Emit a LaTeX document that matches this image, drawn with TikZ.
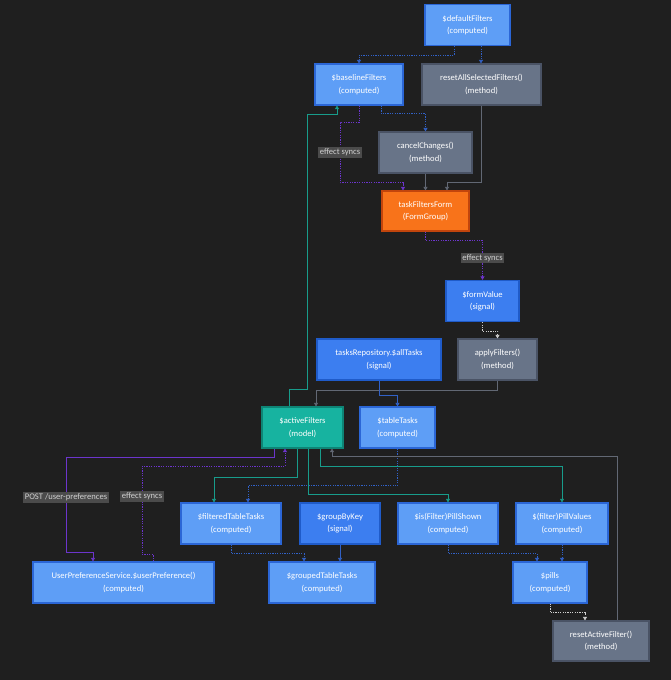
\documentclass[tikz,border=0pt]{standalone}
\usepackage{fontspec}
\setmainfont{Carlito}
\usetikzlibrary{arrows.meta}
\definecolor{bgc}{HTML}{1F1F1F}
\definecolor{compc}{HTML}{5E9EF6}
\definecolor{compb}{HTML}{2B66D6}
\definecolor{sigc}{HTML}{3C7EF0}
\definecolor{sigb}{HTML}{1F5BC9}
\definecolor{methc}{HTML}{687488}
\definecolor{methb}{HTML}{4A5365}
\definecolor{formc}{HTML}{F8731A}
\definecolor{formb}{HTML}{C2450C}
\definecolor{modc}{HTML}{17B3A0}
\definecolor{modb}{HTML}{0E8576}
\definecolor{bluel}{HTML}{3161C6}
\definecolor{purpl}{HTML}{6C35CC}
\definecolor{teall}{HTML}{189C8B}
\definecolor{grayl}{HTML}{626874}
\definecolor{whitel}{HTML}{CFCFCF}
\definecolor{lblc}{HTML}{4B4B4B}
\definecolor{lbltxt}{HTML}{CFCFCF}
\begin{document}
\begin{tikzpicture}[x=1pt, y=-1pt, minimum height=41pt, line width=0.7pt,
    font=\fontsize{8.6}{12.5}\selectfont, >={Triangle[length=3.5pt,width=4pt]},
    box/.style={draw, line width=1.2pt, text=white, align=center, inner sep=1pt},
    compbox/.style={box, fill=compc, draw=compb},
    sigbox/.style={box, fill=sigc, draw=sigb},
    methbox/.style={box, fill=methc, draw=methb},
    formbox/.style={box, fill=formc, draw=formb},
    modelbox/.style={box, fill=modc, draw=modb},
    dots/.style={dash pattern=on 1.2pt off 1.2pt},
    bdot/.style={->, bluel, dots}, bline/.style={->, bluel},
    pdot/.style={->, purpl, dots}, pline/.style={->, purpl},
    tline/.style={->, teall}, gline/.style={->, grayl},
    wdot/.style={->, whitel, dots},
    lbl/.style={fill=lblc, text=lbltxt, minimum height=0pt, inner sep=1.6pt, solid}]
  \fill[bgc] (0,0) rectangle (671,680);
  \useasboundingbox (0,0) rectangle (671,680);

  % nodes
  \node[compbox, minimum width=85pt] (dflt) at (467.5,25) {\$defaultFilters\\(computed)};
  \node[compbox, minimum width=88pt] (base) at (359,84.5) {\$baselineFilters\\(computed)};
  \node[methbox, minimum width=119pt] (rasf) at (481.5,84.5) {resetAllSelectedFilters()\\(method)};
  \node[methbox, minimum width=93pt] (cancel) at (425.5,152.5) {cancelChanges()\\(method)};
  \node[formbox, minimum width=87pt, minimum height=40pt] (form) at (425.5,211) {taskFiltersForm\\(FormGroup)};
  \node[sigbox, minimum width=73pt] (fval) at (482.5,301) {\$formValue\\(signal)};
  \node[sigbox, minimum width=124pt] (repo) at (379,359.5) {tasksRepository.\$allTasks\\(signal)};
  \node[methbox, minimum width=79pt] (apply) at (497.5,359.5) {applyFilters()\\(method)};
  \node[modelbox, minimum width=81pt] (active) at (302.5,427.5) {\$activeFilters\\(model)};
  \node[compbox, minimum width=75pt] (table) at (397.5,427.5) {\$tableTasks\\(computed)};
  \node[compbox, minimum width=100pt] (filt) at (231,523.5) {\$filteredTableTasks\\(computed)};
  \node[sigbox, minimum width=80pt] (grpkey) at (340,523.5) {\$groupByKey\\(signal)};
  \node[compbox, minimum width=100pt] (shown) at (448,523.5) {\$is(Filter)PillShown\\(computed)};
  \node[compbox, minimum width=92pt] (pvals) at (562,523.5) {\$(filter)PillValues\\(computed)};
  \node[compbox, minimum width=181pt] (upref) at (123.5,582.5) {UserPreferenceService.\$userPreference()\\(computed)};
  \node[compbox, minimum width=106pt] (grouped) at (322,582.5) {\$groupedTableTasks\\(computed)};
  \node[compbox, minimum width=74pt] (pills) at (550,582.5) {\$pills\\(computed)};
  \node[methbox, minimum width=96pt, minimum height=40pt] (reset) at (601,641) {resetActiveFilter()\\(method)};

  % connectors
  \draw[bdot] ([xshift=-13.5pt]dflt.south) -- ++(0,9) -| (base.north);
  \draw[bdot] ([xshift=13.5pt]dflt.south) -- ([xshift=13.5pt]dflt.south |- rasf.north);
  \draw[bdot] ([xshift=22pt]base.south) -- ++(0,8) -| (cancel.north);
  \draw[pdot] (base.south) -- ++(0,17) -- ++(-19,0) -- ++(0,60) node[lbl, midway] {effect syncs} -| ([xshift=-22.5pt]form.north);
  \draw[gline] (cancel.south) -- (form.north);
  \draw[gline] (rasf.south) -- ++(0,77) -| ([xshift=21.5pt]form.north);
  \draw[tline] ([xshift=-13.5pt]active.north) -- ++(0,-17) -- ++(18,0) -- ++(0,-275) -| ([xshift=-22pt]base.south);
  \draw[pdot] (form.south) -- ++(0,9) -| (fval.north) node[lbl, pos=0.72] {effect syncs};
  \draw[wdot] (fval.south) -- ++(0,9) -| (apply.north);
  \draw[gline] (apply.south) -- ++(0,10) -| ([xshift=13.5pt]active.north);
  \draw[bline] (repo.south) -- ++(0,15) -| (table.north);
  \draw[pline] ([xshift=-28.5pt]active.south) -- ++(0,9) -- ++(-208,0) -- ++(0,95) node[lbl, pos=0.42] {POST /user-preferences} -| ([xshift=-30.5pt]upref.north);
  \draw[pdot] ([xshift=29.5pt]upref.north) -- ++(0,-7) -- ++(-11,0) -- ++(0,-88) node[lbl, pos=0.66] {effect syncs} -| ([xshift=-17.5pt]active.south);
  \draw[tline] ([xshift=-5.5pt]active.south) -- ++(0,29) -| ([xshift=-17pt]filt.north);
  \draw[bdot] (table.south) -- ++(0,37) -| ([xshift=17pt]filt.north);
  \draw[tline] ([xshift=5.5pt]active.south) -- ++(0,46) -| (shown.north);
  \draw[tline] ([xshift=17.5pt]active.south) -- ++(0,18) -| (pvals.north);
  \draw[gline] ([xshift=16pt]reset.north) -- ++(0,-164) -| ([xshift=29.5pt]active.south);
  \draw[bdot] (filt.south) -- ++(0,9) -| ([xshift=-18pt]grouped.north);
  \draw[bline] (grpkey.south) -- (grpkey.south |- grouped.north);
  \draw[bdot] (shown.south) -- ++(0,9) -| ([xshift=-13pt]pills.north);
  \draw[bdot] (pvals.south) -- (pvals.south |- pills.north);
  \draw[wdot] (pills.south) -- ++(0,9) -| ([xshift=-16pt]reset.north);
\end{tikzpicture}
\end{document}
